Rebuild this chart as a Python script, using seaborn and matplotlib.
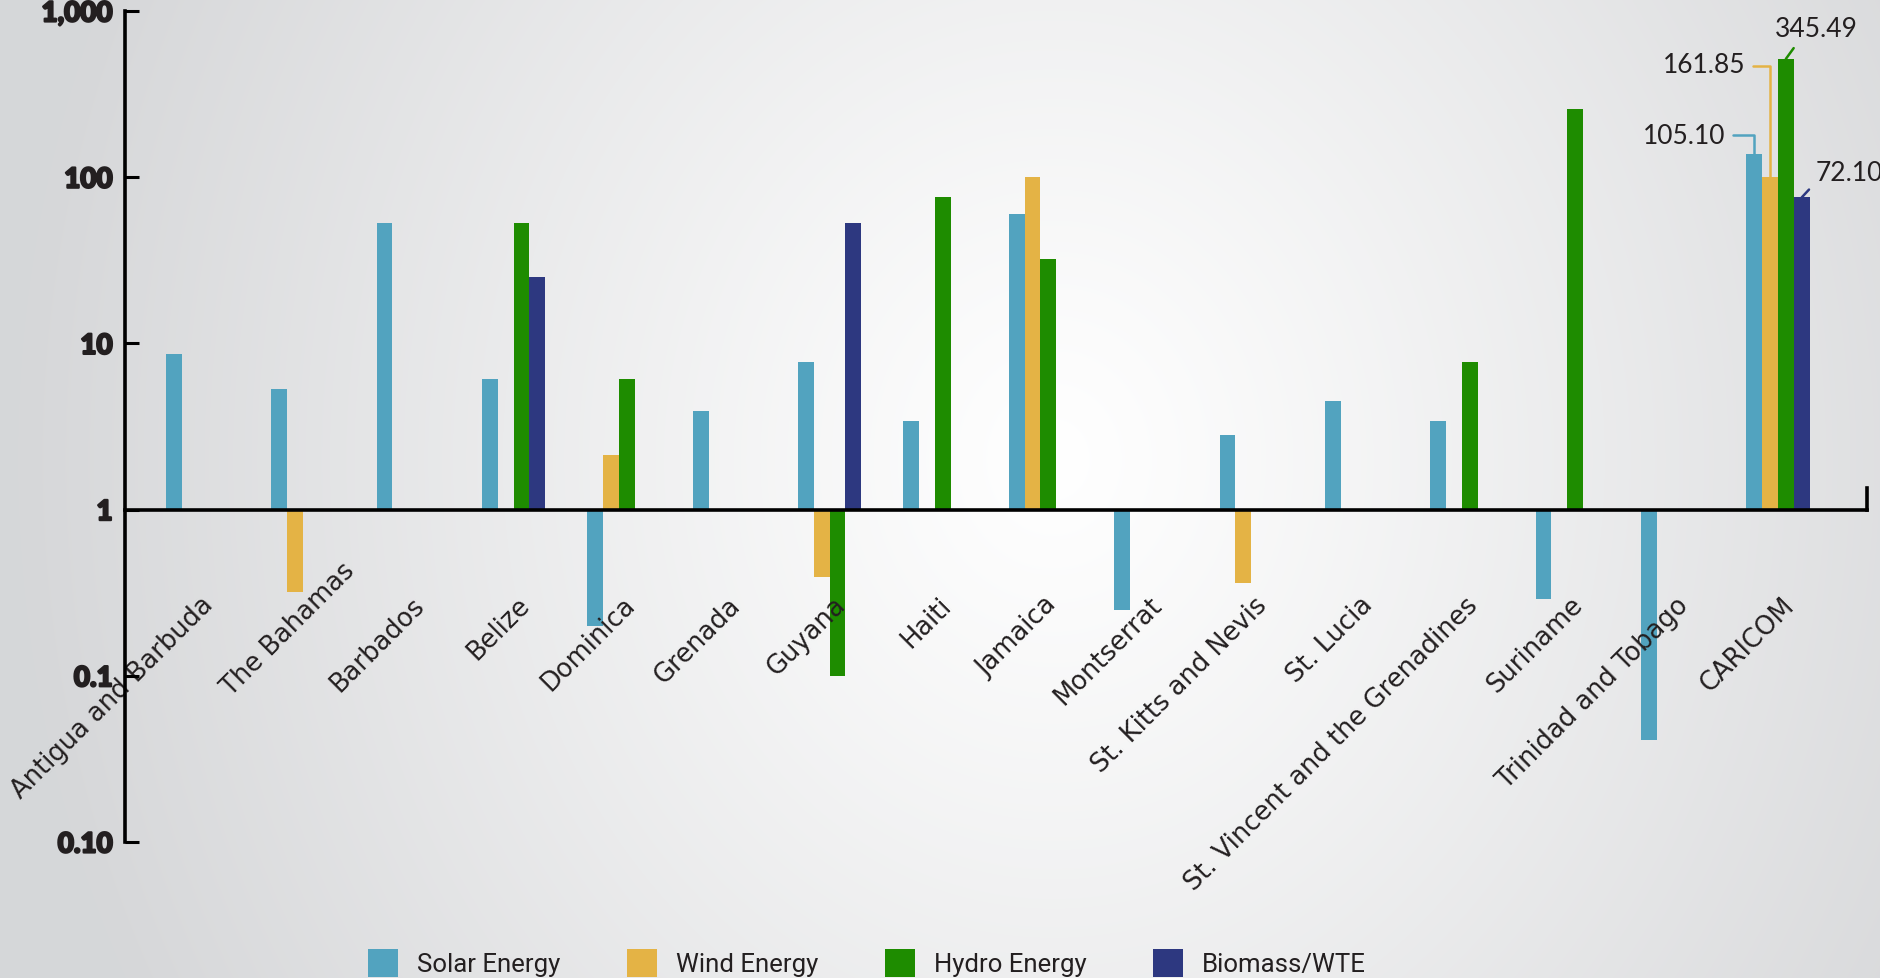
import numpy as np
import pandas as pd
import matplotlib
matplotlib.use("Agg")
import matplotlib.pyplot as plt
import matplotlib.transforms as mtransforms
import matplotlib.patheffects as pe
from matplotlib.patches import Patch
import seaborn as sns

# ---------------- data ----------------
countries = ["Antigua and Barbuda", "The Bahamas", "Barbados", "Belize", "Dominica",
             "Grenada", "Guyana", "Haiti", "Jamaica", "Montserrat",
             "St. Kitts and Nevis", "St. Lucia", "St. Vincent and the Grenadines",
             "Suriname", "Trinidad and Tobago", "CARICOM"]
nan = np.nan
solar = [8.6, 5.3, 53, 6.1, 0.20, 3.9, 7.7, 3.4, 60, 0.25, 2.8, 4.5, 3.4, 0.29, 0.041, 137]
wind = [nan, 0.32, nan, nan, 2.14, nan, 0.395, nan, 100, nan, 0.364, nan, nan, nan, nan, 100]
hydro = [nan, nan, nan, 53, 6.1, nan, 0.10, 75.5, 32, nan, nan, nan, 7.7, 257, nan, 515]
biomass = [nan, nan, nan, 25, nan, nan, 53, nan, nan, nan, nan, nan, nan, nan, nan, 75.5]
series_names = ["Solar Energy", "Wind Energy", "Hydro Energy", "Biomass/WTE"]
colors = ["#52a3bf", "#e4b345", "#1e8c00", "#2d3880"]
caricom_labels = ["105.10", "161.85", "345.49", "72.10"]
ytick_vals = [1000, 100, 10, 1, 0.1, 0.01]
ytick_labels = ["1,000", "100", "10", "1", "0.1", "0.10"]

rows = []
for name, vals in zip(series_names, [solar, wind, hydro, biomass]):
    for c, v in zip(countries, vals):
        if not np.isnan(v):
            rows.append({"country": c, "series": name, "value": v})
df = pd.DataFrame(rows)
df["logv"] = np.log10(df["value"])

# ---------------- figure ----------------
W, H = 1881, 979
fig = plt.figure(figsize=(W / 100, H / 100), dpi=100)

# radial gradient background
bg = fig.add_axes([0, 0, 1, 1], zorder=-10)
yy, xx = np.mgrid[0:H, 0:W]
cx, cy = 0.56 * W, 0.47 * H
d = np.sqrt(((xx - cx) / (0.55 * W)) ** 2 + ((yy - cy) / (0.62 * W)) ** 2)
t = np.clip(d, 0, 1) ** 1.1
top = np.array([255, 255, 255]) / 255
edge = np.array([214, 215, 217]) / 255
img = top[None, None, :] * (1 - t[..., None]) + edge[None, None, :] * t[..., None]
bg.imshow(img, aspect="auto", extent=[0, 1, 0, 1], origin="upper")
bg.axis("off")

ax = fig.add_axes([125 / W, 1 - 843 / H, (1867 - 125) / W, (843 - 12) / H])
ax.patch.set_alpha(0)

sns.barplot(data=df, x="country", y="logv", hue="series", order=countries,
            hue_order=series_names, palette=colors, dodge=True, width=0.6,
            errorbar=None, legend=False, saturation=1, ax=ax)

ax.set_ylim(-2, 3)
ax.set_xlim(-0.688, 15.845)
ax.set_yticks(np.log10(ytick_vals))
ax.set_yticklabels(ytick_labels, fontfamily="Lato", fontweight="black",
                   fontsize=20, color="#231f20")
for lab in ax.get_yticklabels():
    lab.set_path_effects([pe.withStroke(linewidth=1.6, foreground="#231f20")])
ax.tick_params(axis="y", direction="in", length=10, width=2.2, pad=9)
ax.set_xlabel("")
ax.set_ylabel("")

ax.spines["top"].set_visible(False)
ax.spines["left"].set_linewidth(2.6)
ax.spines["left"].set_color("black")
ax.spines["bottom"].set_position(("data", 0))
ax.spines["bottom"].set_linewidth(2.6)
ax.spines["bottom"].set_color("black")
ax.spines["bottom"].set_zorder(5)
ax.spines["right"].set_bounds(0, 0.13)
ax.spines["right"].set_linewidth(2.6)
ax.spines["right"].set_color("black")

ax.tick_params(axis="x", length=0, pad=0)
ax.set_xticks(range(len(countries)))
ax.set_xticklabels(countries, rotation=45, ha="right", va="baseline",
                   rotation_mode="anchor", fontfamily="DejaVu Sans",
                   fontsize=18.5, color="#231f20")
for lab in ax.get_xticklabels():
    dx, dy = 17, -96
    if lab.get_text() == "The Bahamas":
        dx, dy = dx + 36, dy + 34
    off = mtransforms.ScaledTranslation(dx / 100, dy / 100, fig.dpi_scale_trans)
    lab.set_transform(lab.get_transform() + off)

# CARICOM labels with leader lines
ann_specs = [
    dict(off=(-21, 14), ha="right", va="center", relpos=(1, 0.5),
         conn="angle,angleA=0,angleB=90,rad=0"),
    dict(off=(-18, 81), ha="right", va="center", relpos=(1, 0.45),
         conn="angle,angleA=0,angleB=90,rad=0"),
    dict(off=(22, 22), ha="center", va="center", relpos=(0.3, 0.05),
         conn="arc3,rad=0"),
    dict(off=(10, 18), ha="left", va="center", relpos=(0, 0.1),
         conn="arc3,rad=0"),
]
for cont, lab, col, spec in zip(ax.containers, caricom_labels, colors, ann_specs):
    bars = [b for b in cont if np.isfinite(b.get_height())]
    bar = max(bars, key=lambda b: b.get_x())
    xb = bar.get_x() + bar.get_width() / 2
    yb = bar.get_y() + bar.get_height()
    ax.annotate(lab, xy=(xb, yb), xytext=spec["off"], textcoords="offset points",
                ha=spec["ha"], va=spec["va"], fontsize=19, color="#231f20",
                fontfamily="Lato",
                arrowprops=dict(arrowstyle="-", color=col, lw=1.8,
                                connectionstyle=spec["conn"],
                                relpos=spec["relpos"], shrinkA=4, shrinkB=0))

handles = [Patch(facecolor=c, edgecolor="none", label=n) for c, n in zip(colors, series_names)]
fig.legend(handles=handles, loc="center", bbox_to_anchor=(0.461, 0.0155), ncol=4,
           frameon=False, prop={"family": "Roboto", "size": 18.5},
           handlelength=1.15, handleheight=1.3, handletextpad=0.75,
           columnspacing=2.6, labelcolor="#231f20")

fig.savefig("out.png", dpi=100)
